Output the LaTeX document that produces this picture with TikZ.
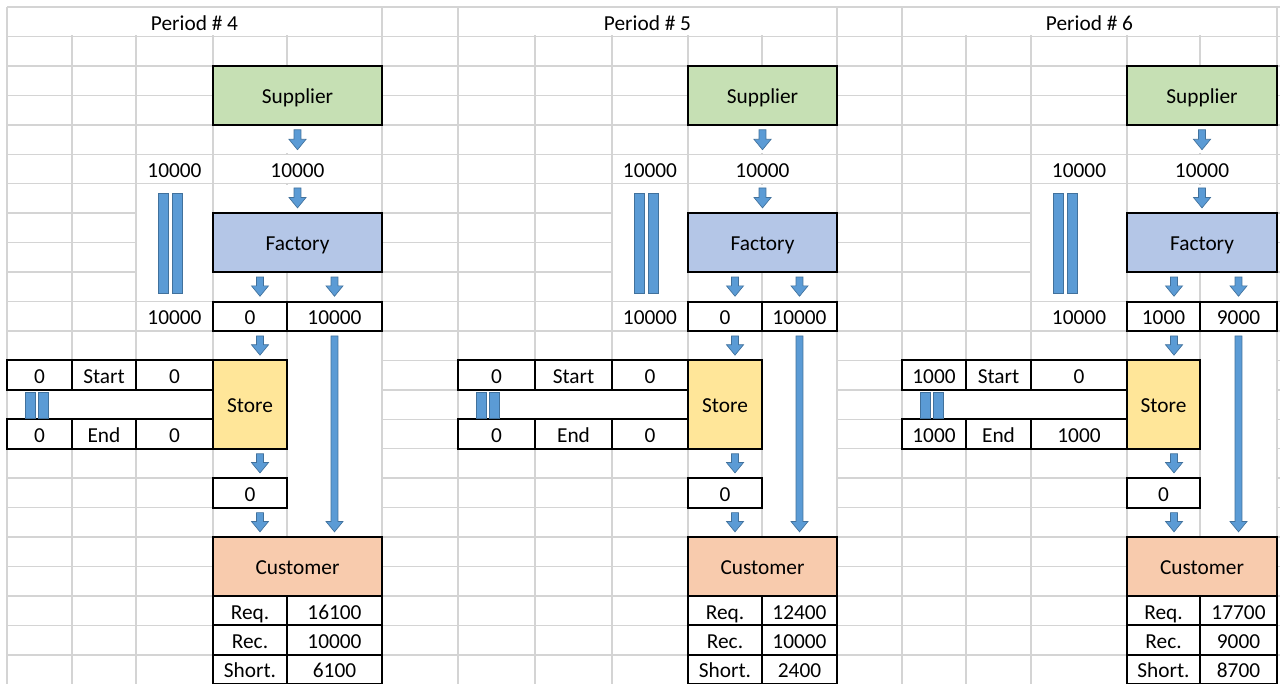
\documentclass[tikz,border=0pt]{standalone}
\usepackage{fontspec}
\setmainfont{Carlito}
\usetikzlibrary{calc}
\definecolor{gridgray}{HTML}{D4D4D4}
\definecolor{supgreen}{HTML}{C6E0B4}
\definecolor{facblue}{HTML}{B4C6E7}
\definecolor{storeyellow}{HTML}{FFE699}
\definecolor{custorange}{HTML}{F8CBAD}
\definecolor{flowblue}{HTML}{5B9BD5}
\definecolor{flowedge}{HTML}{41719C}
\tikzset{
  gridline/.style={gridgray, line width=1.1pt},
  blank/.style={fill=white},
  txt/.style args={#1/#2/#3/#4}{inner sep=0pt, text height=12.5pt, text depth=0pt,
    minimum width={(#2-#1)*0.75pt}, minimum height={(#4-#3)*22.0875pt},
    at={({(#1+#2)/2},{(#3+#4)/2})}},
  cell/.style={txt={#1}, draw=black, line width=1.5pt},
  bar/.style={fill=flowblue, draw=flowedge, line width=0.5pt},
  flow/.style={fill=flowblue, draw=flowedge, line width=0.5pt,
    to path={let \p1=(\tikztostart), \p2=(\tikztotarget) in
      (\x2-2.6pt,\y1-3pt) -- (\x2+2.6pt,\y1-3pt) -- (\x2+2.6pt,\y2+11pt)
      -- (\x2+6.4pt,\y2+11pt) -- (\x2,\y2+3.2pt) -- (\x2-6.4pt,\y2+11pt)
      -- (\x2-2.6pt,\y2+11pt) -- cycle}}
}
\begin{document}
\begin{tikzpicture}[x=0.75pt, y=-22.0875pt, font=\fontsize{16}{19}\selectfont]
    \useasboundingbox (0,-0.2377) rectangle (1280,22.988);
    \clip (0,-0.2377) rectangle (1280,22.988);

    \foreach \per/\xa/\xb/\xc/\xd/\xe/\xf/\xg/\sta/\stc/\eda/\edc/\vd/\ve/\rq/\rc/\sh in
      {4/7/72/136/213/287/382/458/0/0/0/0/0/10000/16100/10000/6100,
       5/458/535/612/688/762/837/902/0/0/0/0/0/10000/12400/10000/2400,
       6/902/966/1031/1127/1200/1277/1350/1000/0/1000/1000/1000/9000/17700/9000/8700}{
        % sheet grid
        \foreach \r in {0,...,23}
            \draw[gridline] (\xa,\r) -- (\xg,\r);
        \foreach \cx in {\xa,\xb,\xc,\xd,\xe,\xf,\xg}
            \draw[gridline] (\cx,0) -- (\cx,23);
        \fill[blank] (\xa+1,0.04) rectangle (\xf-1,0.96);
        \foreach \r in {4,5,6}
            \fill[blank] (\xd+1,\r+0.04) rectangle (\xf-1,\r+0.96);
        \fill[blank] (\xc+1,6.04) rectangle (\xd-1,9.96);
        \fill[blank] (\xe+1,11.04) rectangle (\xf-1,17.96);
        \fill[blank] (\xa+1,13.04) rectangle (\xd-1,13.96);

        \node[txt={\xa/\xf/0/1}] (title\per) {Period \# \per};
        \node[cell={\xd/\xf/2/4}, fill=supgreen] (sup\per) {Supplier};
        \node[txt={\xc/\xd/5/6}] (cin\per) {10000};
        \node[txt={\xd/\xf/5/6}] (in\per) {10000};
        \node[cell={\xd/\xf/7/9}, fill=facblue] (fac\per) {Factory};
        \node[txt={\xc/\xd/10/11}] (cout\per) {10000};
        \node[cell={\xd/\xe/10/11}] (vd\per) {\vd};
        \node[cell={\xe/\xf/10/11}] (ve\per) {\ve};
        \node[cell={\xa/\xb/12/13}] (sa\per) {\sta};
        \node[cell={\xb/\xc/12/13}] (sl\per) {Start};
        \node[cell={\xc/\xd/12/13}] (sc\per) {\stc};
        \node[cell={\xa/\xb/14/15}] (ea\per) {\eda};
        \node[cell={\xb/\xc/14/15}] (el\per) {End};
        \node[cell={\xc/\xd/14/15}] (ec\per) {\edc};
        \node[cell={\xd/\xe/12/15}, fill=storeyellow] (st\per) {Store};
        \node[cell={\xd/\xe/16/17}] (so\per) {0};
        \node[cell={\xd/\xf/18/20}, fill=custorange] (cu\per) {Customer};
        \node[cell={\xd/\xe/20/21}] (rql\per) {Req.};
        \node[cell={\xe/\xf/20/21}] (rqv\per) {\rq};
        \node[cell={\xd/\xe/21/22}] (rcl\per) {Rec.};
        \node[cell={\xe/\xf/21/22}] (rcv\per) {\rc};
        \node[cell={\xd/\xe/22/23}] (shl\per) {Short.};
        \node[cell={\xe/\xf/22/23}] (shv\per) {\sh};

        \draw[bar] (\xc+22,6.32) rectangle (\xc+32,9.71);
        \draw[bar] (\xc+36,6.32) rectangle (\xc+46,9.71);
        \draw[bar] (\xa+18,13.07) rectangle (\xa+28,13.96);
        \draw[bar] (\xa+31,13.07) rectangle (\xa+41,13.96);

        \draw[flow] (sup\per.south) to (in\per.north);
        \draw[flow] (in\per.south) to (fac\per.north);
        \draw[flow] (fac\per.south) to ([xshift=36pt]vd\per.north west);
        \draw[flow] (fac\per.south) to (ve\per.north);
        \draw[flow] (vd\per.south) to ([xshift=36pt]st\per.north west);
        \draw[flow] (ve\per.south) to (ve\per.south |- cu\per.north);
        \draw[flow] (st\per.south) to ([xshift=36pt]so\per.north west);
        \draw[flow] (so\per.south) to ([xshift=36pt]cu\per.north west);
    }
\end{tikzpicture}
\end{document}
